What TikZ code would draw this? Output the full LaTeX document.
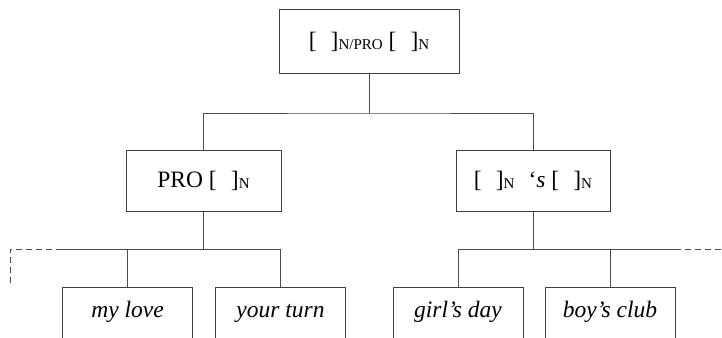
\documentclass[tikz,border=0pt]{standalone}
\usepackage{fontspec}
\setmainfont{Liberation Serif}
\usetikzlibrary{positioning}

\newcommand{\slot}{[\hspace{0.6em}]}
\newcommand{\lab}[1]{\raisebox{-1.5pt}{\fontsize{15}{15}\selectfont #1}}

\begin{document}
\begin{tikzpicture}[
      x=1pt, y=-1pt,
      box/.style={rectangle, draw=black!75, line width=1pt, inner sep=0pt, align=center, font=\fontsize{23.5}{26}\selectfont},
      leaf/.style={box, minimum width=130pt, minimum height=52pt, text height=14pt, text depth=6pt, font=\fontsize{23.5}{26}\selectfont\itshape},
      link/.style={draw=black!70, line width=1pt},
      dashline/.style={link, dash pattern=on 6pt off 4pt}
    ]
    \useasboundingbox (0,0) rectangle (722,337);
    \clip (0,0) rectangle (722,337);

    \node[box, minimum width=180pt, minimum height=63pt] (top) at (369,41.5) {\slot\lab{N/PRO} \slot\lab{N}};
    \node[box, minimum width=155pt, minimum height=61pt] (pro) at (203.5,180.5) {PRO \slot\lab{N}};
    \node[box, minimum width=154pt, minimum height=61pt] (poss) at (533,180.5) {\slot\lab{N}\hspace{0.6em}‘\textit{s} \slot\lab{N}};

    \node[leaf] (love) at (127.5,313) {my love};
    \node[leaf, right=22pt of love] (turn) {your turn};
    \node[leaf] (girl) at (458,313) {girl’s day};
    \node[leaf, right=21pt of girl] (club) {boy’s club};

    \coordinate (j0) at (369,113);
    \coordinate (el) at (62,249);
    \coordinate (dl) at (10,287);
    \coordinate (er) at (675,249);
    \coordinate (dr) at (722,249);

    \draw[link] (top) -- (j0);
    \draw[link] (pro.north) |- (j0) -| (poss.north);

    \draw[link] (pro) -- (pro.south |- el);
    \draw[link] (el) -| (turn.north);
    \draw[link] (love.north) -- (love.north |- el);
    \draw[dashline] (el) -- (dl |- el) -- (dl);

    \draw[link] (poss) -- (poss.south |- er);
    \draw[link] (girl.north) |- (er);
    \draw[link] (club.north) -- (club.north |- er);
    \draw[dashline] (er) -- (dr);
  \end{tikzpicture}
\end{document}
